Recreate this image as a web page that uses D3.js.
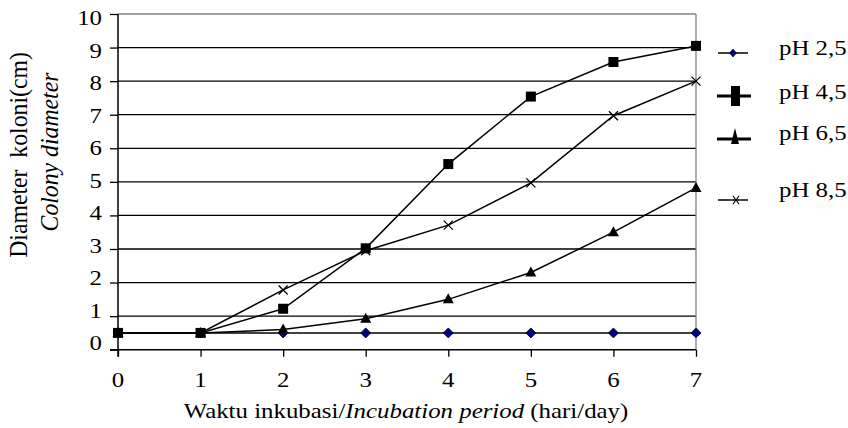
<!DOCTYPE html>
<html>
<head>
<meta charset="utf-8">
<script src="https://cdn.jsdelivr.net/npm/d3@7"></script>
<style>
  body { margin: 0; background: #fff; }
  svg { display: block; }
  text { font-family: "Liberation Serif", "Times New Roman", serif; fill: #000; }
</style>
</head>
<body>
<div id="chart"></div>
<script>
// data
const days = [0, 1, 2, 3, 4, 5, 6, 7];
const ph25 = [0.5, 0.5, 0.5, 0.5, 0.5, 0.5, 0.5, 0.5];
const ph45 = [0.5, 0.5, 1.22, 3.02, 5.53, 7.54, 8.57, 9.05];
const ph65 = [0.5, 0.5, 0.6, 0.92, 1.5, 2.3, 3.5, 4.82];
const ph85 = [0.5, 0.5, 1.78, 2.95, 3.71, 4.97, 6.97, 8.0];
const yTicks = [0, 1, 2, 3, 4, 5, 6, 7, 8, 9, 10];
const xTicks = [0, 1, 2, 3, 4, 5, 6, 7];

const seriesList = [
  { name: "pH 2,5", values: ph25, shape: "diamond" },
  { name: "pH 4,5", values: ph45, shape: "square" },
  { name: "pH 6,5", values: ph65, shape: "triangle" },
  { name: "pH 8,5", values: ph85, shape: "cross" }
];

const width = 848, height = 428;
const sx = 1.13; // the picture is a bit wider than tall, text looks stretched
const fs = "22px";

const svg = d3.select("#chart").append("svg")
  .attr("width", width).attr("height", height);

const x = d3.scaleLinear().domain([0, 7]).range([118, 696]);
const y = d3.scaleLinear().domain([0, 10]).range([349.7, 14]);
// tick labels in the original sit on a slightly tighter spacing than the grid
const yLab = d3.scaleLinear().domain([0, 10]).range([342.5, 17.5]);

// helper for stretched text
function label(g, tx, ty, str, anchor, size, rot) {
  return g.append("text")
    .attr("transform", `translate(${tx},${ty})` + (rot ? ` rotate(${rot}) scale(1.08,${sx})` : ` scale(${sx},1)`))
    .attr("text-anchor", anchor)
    .attr("font-size", size)
    .style("white-space", "pre")
    .text(str);
}

// grid lines
svg.append("g")
  .selectAll("line")
  .data(yTicks.filter(d => d > 0 && d < 10))
  .join("line")
  .attr("x1", x(0)).attr("x2", x(7))
  .attr("y1", d => y(d)).attr("y2", d => y(d))
  .attr("stroke", "#000").attr("stroke-width", 1.3);

// gray frame top / right
svg.append("line")
  .attr("x1", x(0)).attr("x2", x(7)).attr("y1", y(10)).attr("y2", y(10))
  .attr("stroke", "#808080").attr("stroke-width", 1.3);
svg.append("line")
  .attr("x1", x(7)).attr("x2", x(7)).attr("y1", y(10)).attr("y2", y(0))
  .attr("stroke", "#808080").attr("stroke-width", 1.3);

// y axis
const yAxis = svg.append("g")
  .attr("transform", `translate(${x(0)},0)`)
  .call(d3.axisLeft(y).tickValues(yTicks).tickSize(8).tickFormat(""));
yAxis.select(".domain").attr("stroke", "#000").attr("stroke-width", 1.5)
  .attr("d", `M0,${y(0) + 7}V${y(10)}`);
yAxis.selectAll(".tick line").attr("stroke", "#000").attr("stroke-width", 1.3);
yTicks.forEach(t => label(svg, 102, yLab(t) + 7.5, d3.format("d")(t), "end", fs));

// x axis
const xAxis = svg.append("g")
  .attr("transform", `translate(0,${y(0)})`)
  .call(d3.axisBottom(x).tickValues(xTicks).tickSize(7).tickFormat(""));
xAxis.select(".domain").attr("stroke", "#000").attr("stroke-width", 1.5)
  .attr("d", `M${x(0) - 8},0H${x(7)}`);
xAxis.selectAll(".tick line").attr("stroke", "#000").attr("stroke-width", 1.3);
xTicks.forEach(t => label(svg, x(t), 387, String(t), "middle", fs));

// axis titles
const xt = svg.append("text")
  .attr("transform", `translate(406,418) scale(${sx},1)`)
  .attr("text-anchor", "middle").attr("font-size", fs);
xt.append("tspan").text("Waktu inkubasi/");
xt.append("tspan").attr("font-style", "italic").text("Incubation period");
xt.append("tspan").text(" (hari/day)");

label(svg, 27, 155, "Diameter  koloni(cm)", "middle", fs, -90);
label(svg, 58, 152, "Colony diameter", "middle", fs, -90).attr("font-style", "italic");

// markers
function drawMarker(g, shape, cx, cy) {
  if (shape === "cross") {
    g.append("path")
      .attr("d", "M-4.5,-4.5L4.5,4.5M-4.5,4.5L4.5,-4.5")
      .attr("transform", `translate(${cx},${cy})`)
      .attr("stroke", "#000").attr("stroke-width", 1.3).attr("fill", "none");
  } else if (shape === "diamond") {
    g.append("path")
      .attr("d", "M0,-5L5,0L0,5L-5,0Z")
      .attr("transform", `translate(${cx},${cy})`)
      .attr("fill", "#000080").attr("stroke", "#000").attr("stroke-width", 0.8);
  } else if (shape === "square") {
    g.append("rect")
      .attr("x", cx - 5).attr("y", cy - 5).attr("width", 10).attr("height", 10)
      .attr("fill", "#000");
  } else {
    g.append("path")
      .attr("d", "M0,-6L5.5,4L-5.5,4Z")
      .attr("transform", `translate(${cx},${cy})`)
      .attr("fill", "#000");
  }
}

const line = d3.line().x((d, i) => x(days[i])).y(d => y(d));
const drawOrder = [0, 2, 3, 1];
drawOrder.forEach(k => {
  const s = seriesList[k];
  svg.append("path")
    .attr("d", line(s.values))
    .attr("fill", "none").attr("stroke", "#000").attr("stroke-width", 1.5);
});
drawOrder.forEach(k => {
  const s = seriesList[k];
  const g = svg.append("g");
  s.values.forEach((v, i) => drawMarker(g, s.shape, x(days[i]), y(v)));
});

// legend
const legY = [53, 96, 139, 200];
const legText = [48, 92, 133, 190];
const lg = svg.append("g");
seriesList.forEach((s, i) => {
  const thick = i === 1 || i === 2;
  lg.append("line")
    .attr("x1", thick ? 717 : 718).attr("x2", thick ? 751 : 748)
    .attr("y1", legY[i]).attr("y2", legY[i])
    .attr("stroke", "#000").attr("stroke-width", thick ? 3 : 1.5);
  if (s.shape === "square") {
    lg.append("rect").attr("x", 731).attr("y", legY[i] - 10).attr("width", 9).attr("height", 20).attr("fill", "#000");
  } else if (s.shape === "triangle") {
    lg.append("path").attr("d", `M735,${legY[i] - 11}L739,${legY[i] + 5}L731,${legY[i] + 5}Z`).attr("fill", "#000");
  } else if (s.shape === "diamond") {
    lg.append("path").attr("d", `M733,${legY[i] - 4}L736.5,${legY[i]}L733,${legY[i] + 4}L729.5,${legY[i]}Z`)
      .attr("fill", "#000080").attr("stroke", "#000").attr("stroke-width", 0.6);
  } else {
    lg.append("path").attr("d", `M733,${legY[i] - 4}L739,${legY[i] + 4}M733,${legY[i] + 4}L739,${legY[i] - 4}`)
      .attr("stroke", "#000").attr("stroke-width", 1.2);
  }
  label(lg, 779, legText[i] + 7, s.name, "start", fs);
});
</script>
</body>
</html>
